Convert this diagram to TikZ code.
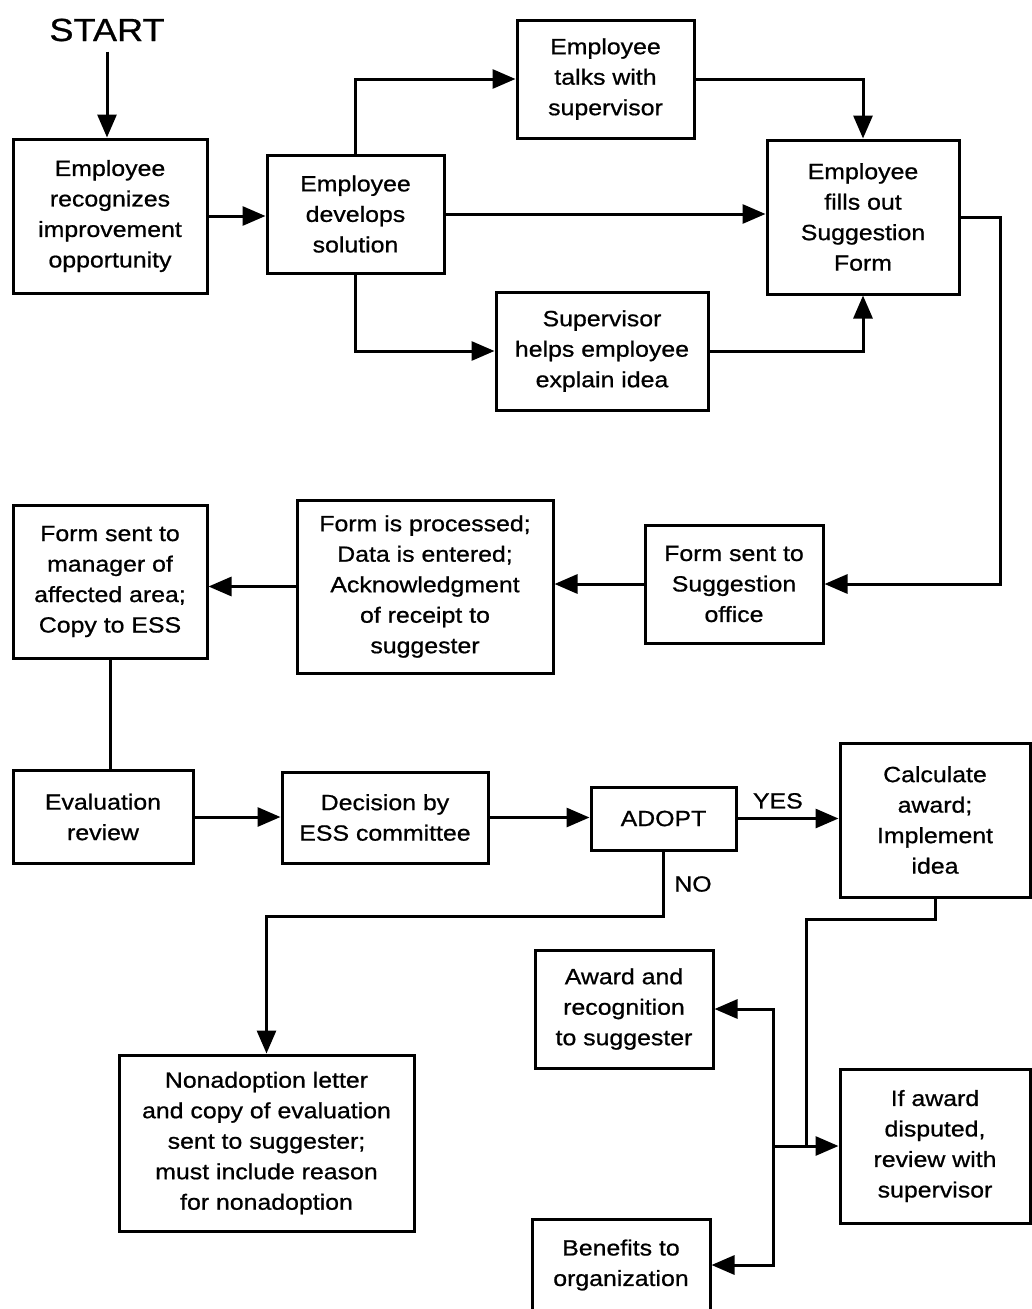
\documentclass[tikz,border=0pt]{standalone}
\usepackage{fontspec}
\setmainfont{Liberation Sans}[FakeStretch=1.13,FakeBold=0.8]
\usetikzlibrary{arrows.meta}
\begin{document}
\begin{tikzpicture}[x=1pt,y=-1pt,
  box/.style={draw, line width=3pt, align=center, inner sep=0pt, font=\fontsize{22}{30.5}\selectfont},
  arr/.style={line width=3pt, -{Triangle[length=23pt,width=19pt]}},
  ln/.style={line width=3pt},
  lbl/.style={font=\fontsize{22}{26}\selectfont}]
\useasboundingbox (0,0) rectangle (1032,1309);
\fill[white] (0,0) rectangle (1032,1309);
\clip (0,0) rectangle (1032,1309);

\node[font=\fontsize{32}{36}\selectfont, inner sep=2pt] (start) at (107,30) {START};

\node[box, minimum width=194pt, minimum height=154pt] (n1) at (110,216) {Employee\\recognizes\\improvement\\opportunity};
\node[box, minimum width=177pt, minimum height=118pt] (n2) at (355.5,214) {Employee\\develops\\solution};
\node[box, minimum width=177pt, minimum height=118pt] (n3) at (605.5,79) {Employee\\talks with\\supervisor};
\node[box, minimum width=192pt, minimum height=154pt] (n4) at (863,217) {Employee\\fills out\\Suggestion\\Form};
\node[box, minimum width=212pt, minimum height=118pt] (n5) at (602,351) {Supervisor\\helps employee\\explain idea};
\node[box, minimum width=178pt, minimum height=118pt] (n6) at (734,584) {Form sent to\\Suggestion\\office};
\node[box, minimum width=256pt, minimum height=173pt] (n7) at (425,586.5) {Form is processed;\\Data is entered;\\Acknowledgment\\of receipt to\\suggester};
\node[box, minimum width=194pt, minimum height=153pt] (n8) at (110,581.5) {Form sent to\\manager of\\affected area;\\Copy to ESS};
\node[box, minimum width=180pt, minimum height=93pt] (n9) at (103,817) {Evaluation\\review};
\node[box, minimum width=206pt, minimum height=91pt] (n10) at (385,817.5) {Decision by\\ESS committee};
\node[box, minimum width=145pt, minimum height=63pt] (n11) at (663.5,818.5) {ADOPT};
\node[box, minimum width=190pt, minimum height=154pt] (n12) at (935,820) {Calculate\\award;\\Implement\\idea};
\node[box, minimum width=295pt, minimum height=176pt] (n13) at (266.5,1143) {Nonadoption letter\\and copy of evaluation\\sent to suggester;\\must include reason\\for nonadoption};
\node[box, minimum width=178pt, minimum height=118pt] (n14) at (624,1009) {Award and\\recognition\\to suggester};
\node[box, minimum width=178pt, minimum height=92pt] (n15) at (621,1265) {Benefits to\\organization};
\node[box, minimum width=190pt, minimum height=154pt] (n16) at (935,1146) {If award\\disputed,\\review with\\supervisor};

\coordinate (j) at (773,1146);
\coordinate (k) at (806,1146);

\draw[arr] ([yshift=-8pt]start.south) -- (start.south |- n1.north);
\draw[arr] (n1.east) -- (n1.east -| n2.west);
\draw[arr] (n2.north) |- (n3.west);
\draw[arr] (n2.east) -- (n2.east -| n4.west);
\draw[arr] (n2.south) |- (n5.west);
\draw[arr] (n3.east) -| (n4.north);
\draw[arr] (n5.east) -| (n4.south);
\draw[arr] (n4.east) -- ++(40,0) |- (n6.east);
\draw[arr] (n6.west) -- (n6.west -| n7.east);
\draw[arr] (n7.west) -- (n7.west -| n8.east);
\draw[ln] (n8.south) -- (n8.south |- n9.north);
\draw[arr] (n9.east) -- (n9.east -| n10.west);
\draw[arr] (n10.east) -- (n10.east -| n11.west);
\draw[arr] (n11.east) -- node[lbl, above=5pt, pos=0.4] {YES} (n11.east -| n12.west);
\draw[arr] (n11.south) -- node[lbl, right=6pt] {NO} ++(0,65) -| (n13.north);
\draw[ln] (n12.south) -- ++(0,21) -| (k);
\draw[arr] (j) -- (j -| n16.west);
\draw[arr] (j) |- (n14.east);
\draw[arr] (j) |- (n15.east);
\end{tikzpicture}
\end{document}
